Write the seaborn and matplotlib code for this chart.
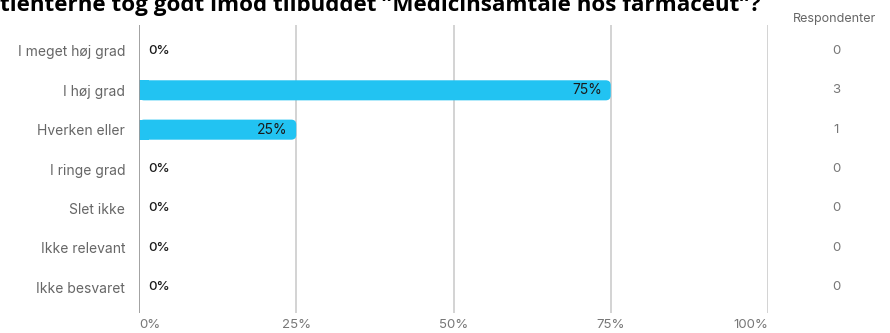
import matplotlib
matplotlib.use("Agg")
import matplotlib.pyplot as plt
from matplotlib.patches import FancyBboxPatch, Rectangle
import seaborn as sns
import pandas as pd

categories = ["I meget høj grad", "I høj grad", "Hverken eller", "I ringe grad",
              "Slet ikke", "Ikke relevant", "Ikke besvaret"]
percent = [0, 75, 25, 0, 0, 0, 0]
respondents = [0, 3, 1, 0, 0, 0, 0]
x_ticks = [0, 25, 50, 75, 100]
x_tick_labels = ["0%", "25%", "50%", "75%", "100%"]
title = "tienterne tog godt imod tilbuddet \u201dMedicinsamtale hos farmaceut\u201d?"

df = pd.DataFrame({"kategori": categories, "procent": percent, "antal": respondents})

sns.set_theme(style="white")
plt.rcParams["font.family"] = ["Inter", "DejaVu Sans"]

bar_color = "#22c3f2"
W, H = 890, 333
fig = plt.figure(figsize=(W / 100, H / 100), dpi=100)
ax = fig.add_axes([139 / W, 1 - 313 / H, (768 - 139) / W, (313 - 25) / H])

sns.barplot(data=df, x="procent", y="kategori", orient="h", color=bar_color,
            width=0.51, saturation=1, ax=ax)

# Rounded right end on each bar, square left edge at the axis
px_x = 100 / (768 - 139)
px_y = 1 / 39.3
for p in list(ax.patches):
    w = p.get_width()
    if w <= 0:
        p.remove()
        continue
    y0, h = p.get_y(), p.get_height()
    r = 5 * px_x
    fb = FancyBboxPatch((0, y0), w, h,
                        boxstyle=f"round,pad=0,rounding_size={r}",
                        mutation_aspect=px_y / px_x,
                        facecolor=bar_color, edgecolor="none", zorder=3)
    ax.add_patch(fb)
    ax.add_patch(Rectangle((0, y0), min(w, 2 * r), h, facecolor=bar_color,
                           edgecolor="none", zorder=3))
    p.remove()

pt = 72 / 100  # points per pixel
for i, (v, n) in enumerate(zip(percent, respondents)):
    if v > 0:
        ax.text(v - 9 * px_x, i, f"{v}%", ha="right", va="center",
                fontsize=10, color="#1a1a1a", zorder=4)
    else:
        ax.text(9 * px_x, i, f"{v}%", ha="left", va="center",
                fontsize=9.5, color="#1a1a1a", fontweight="medium", zorder=4)
    ax.annotate(str(n), xy=(1, i), xycoords=("axes fraction", "data"),
                xytext=(68 * pt, 0), textcoords="offset points", ha="center",
                va="center", fontsize=9.5, color="#777777", annotation_clip=False)

ax.annotate("Respondenter", xy=(1, -0.66), xycoords=("axes fraction", "data"),
            xytext=(67 * pt, 0), textcoords="offset points", ha="center",
            va="bottom", fontsize=9, color="#666666", annotation_clip=False)

ax.set_xlim(0, 100)
ax.set_ylim(6.66, -0.66)
ax.set_xticks(x_ticks)
ax.set_xticklabels(x_tick_labels, color="#777777", fontsize=9.5)
labels = ax.get_xticklabels()
labels[0].set_horizontalalignment("left")
labels[-1].set_horizontalalignment("right")
ax.tick_params(axis="x", length=0, pad=4)
ax.tick_params(axis="y", length=0, pad=10, labelsize=10, labelcolor="#666666")
ax.set_xlabel("")
ax.set_ylabel("")
for s in ax.spines.values():
    s.set_visible(False)
for t in x_ticks[1:]:
    ax.axvline(t, color="#d0d0d0", lw=1.3, zorder=1)
ax.axvline(0, color="#9a9a9a", lw=1.3, zorder=5)

fig.text(0.0, 1 - 11 / H, title, ha="left", va="baseline", fontsize=16.1,
         fontweight="bold", color="#000000", family=["Open Sans", "DejaVu Sans"])

fig.savefig("out.png", dpi=100)
